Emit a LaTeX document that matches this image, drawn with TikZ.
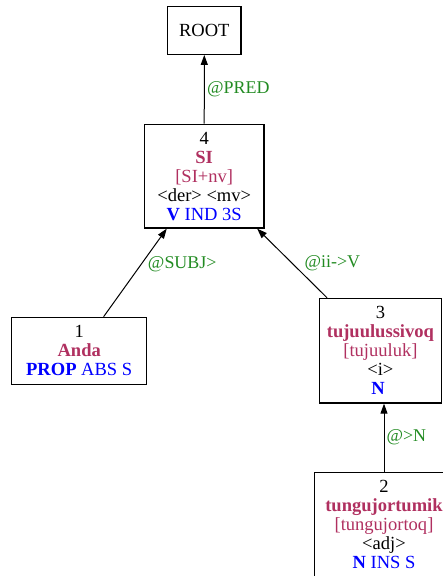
\documentclass[tikz,border=0pt]{standalone}
\usepackage{fontspec}
\setmainfont{Liberation Serif}
\usepackage{xcolor}
\usepackage{tikz}
\usetikzlibrary{arrows.meta}
\definecolor{lemma}{HTML}{B03060}
\definecolor{tag}{HTML}{0000FF}
\definecolor{func}{HTML}{228B22}
\newcommand{\wlem}[1]{\textcolor{lemma}{\bfseries #1}}
\newcommand{\wbase}[1]{\textcolor{lemma}{#1}}
\newcommand{\wpos}[2]{\textcolor{tag}{\textbf{#1} #2}}
\tikzset{
  tok/.style={draw=black, line width=1.2bp, inner sep=0pt, align=center, font=\fontsize{18.6}{19}\selectfont},
  dep/.style={draw=black, line width=1bp, -{Triangle[length=10bp,width=7bp]}},
  fn/.style={text=func, inner sep=0pt, anchor=west, font=\fontsize{18}{19}\selectfont},
}

\begin{document}
\begin{tikzpicture}[x=1bp,y=-1bp]
  \useasboundingbox (0,0) rectangle (443,576);
  \clip (0,0) rectangle (443,576);
  % tokens
  \node[tok, minimum width=73.3bp, minimum height=47.6bp] (root) at (204.3,30.5) {ROOT};
  \node[tok, minimum width=119.5bp, minimum height=103.7bp] (n4) at (204.2,176.2)
    {4\\ \wlem{SI}\\ \wbase{[SI+nv]}\\ <der> <mv>\\ \wpos{V}{IND 3S}};
  \node[tok, minimum width=135bp, minimum height=67bp] (n1) at (79.2,350.8)
    {1\\ \wlem{Anda}\\ \wpos{PROP}{ABS S}};
  \node[tok, minimum width=121.7bp, minimum height=104.7bp] (n3) at (380.4,350.7)
    {3\\ \wlem{tujuulussivoq}\\ \wbase{[tujuuluk]}\\ <i>\\ \wpos{N}{}};
  \node[tok, minimum width=139.4bp, minimum height=104bp] (n2) at (384,524.3)
    {2\\ \wlem{tungujortumik}\\ \wbase{[tungujortoq]}\\ <adj>\\ \wpos{N}{INS S}};
  % dependencies
  \draw[dep] (n4) -- node[fn, pos=0.5, xshift=2.4bp] (lpred) {@PRED} (root);
  \draw[dep] (n1) -- node[fn, pos=0.6, xshift=6bp] (lsubj) {@SUBJ>} (n4);
  \draw[dep] (n3) -- node[fn, pos=0.5, xshift=12bp] (lii) {@ii->V} (n4);
  \draw[dep] (n2) -- node[fn, pos=0.5, xshift=2bp] (lattr) {@>N} (n2 |- n3.south);
\end{tikzpicture}
\end{document}
